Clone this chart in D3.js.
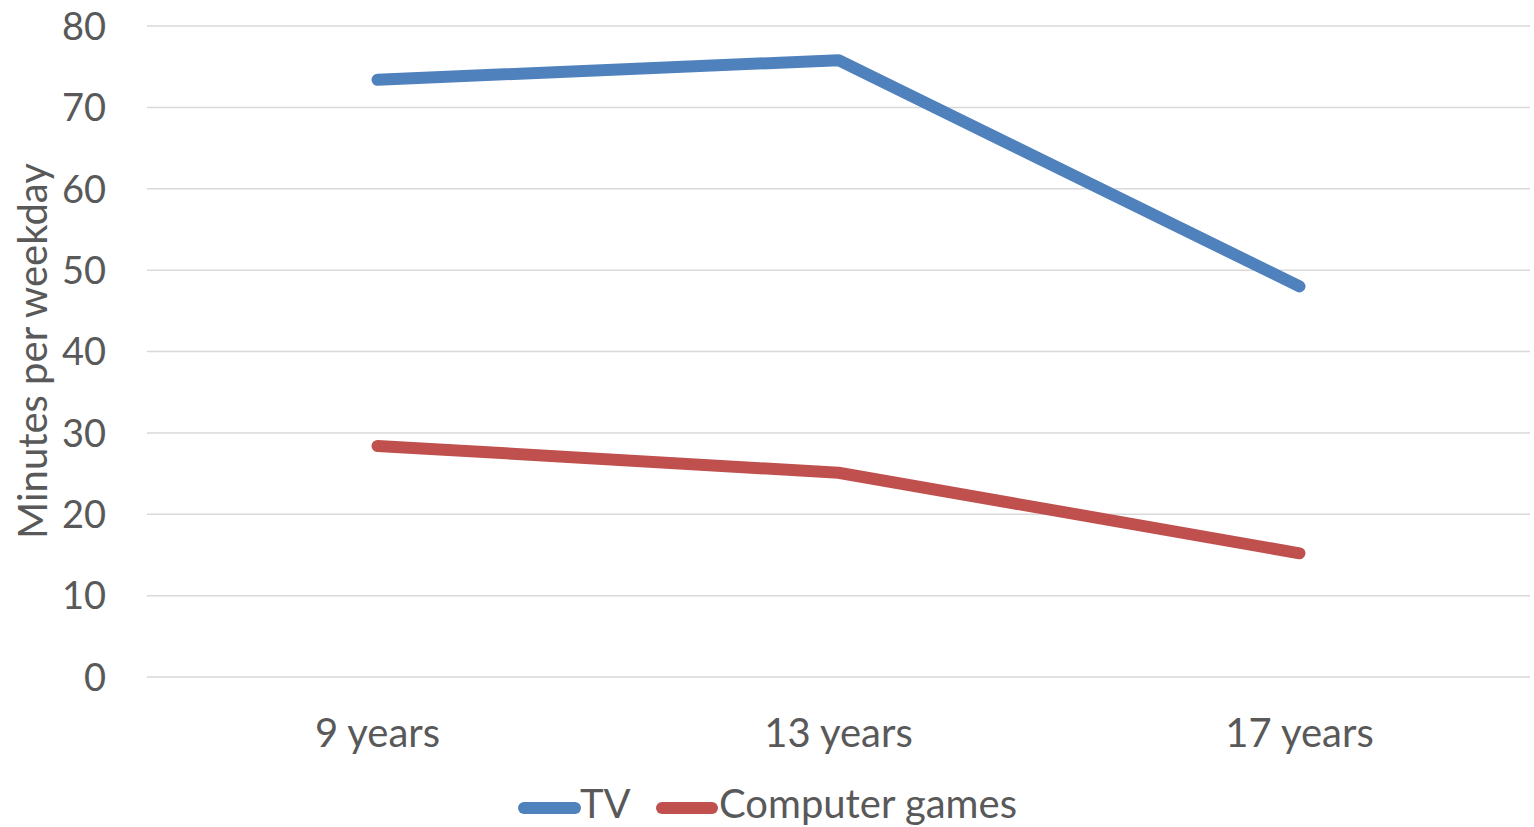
<!DOCTYPE html>
<html>
<head>
<meta charset="utf-8">
<script src="https://cdn.jsdelivr.net/npm/d3@7"></script>
<style>
  html, body { margin: 0; padding: 0; background: #fff; }
  svg { display: block; }
  text { font-family: Lato, "Open Sans", sans-serif; fill: #595959; }
</style>
</head>
<body>
<svg id="chart" width="1534" height="827"></svg>
<script>
// Age groups along the x axis
const categories = ["9 years", "13 years", "17 years"];
// Minutes per weekday for each series
const tvValues = [73.4, 75.8, 48.0];
const gamesValues = [28.4, 25.1, 15.2];
const seriesNames = ["TV", "Computer games"];
const seriesColors = ["#4F81BD", "#C0504D"];
const yTicks = [0, 10, 20, 30, 40, 50, 60, 70, 80];

const series = [
  { name: seriesNames[0], color: seriesColors[0], values: tvValues },
  { name: seriesNames[1], color: seriesColors[1], values: gamesValues }
];

const svg = d3.select("#chart");
const plot = { left: 147, right: 1530, top: 26, bottom: 677 };

const x = d3.scaleBand().domain(categories).range([plot.left, plot.right]);
const y = d3.scaleLinear().domain([0, 80]).range([plot.bottom, plot.top]);

// horizontal gridlines
svg.append("g")
  .selectAll("line")
  .data(yTicks)
  .join("line")
  .attr("x1", plot.left).attr("x2", plot.right)
  .attr("y1", d => y(d)).attr("y2", d => y(d))
  .attr("stroke", "#d9d9d9").attr("stroke-width", 1.5);

// y tick labels
const yAxis = d3.axisLeft(y).tickValues(yTicks).tickSize(0).tickPadding(0);
const gy = svg.append("g").attr("transform", "translate(106,0)").call(yAxis);
gy.select(".domain").remove();
gy.selectAll("text")
  .attr("font-size", 38).attr("font-family", "Lato, sans-serif")
  .attr("fill", "#595959").attr("dy", "0.35em").attr("x", 0);

// x tick labels
const xAxis = d3.axisBottom(x).tickSize(0).tickPadding(0);
const gx = svg.append("g").attr("transform", "translate(0,733)").call(xAxis);
gx.select(".domain").remove();
gx.selectAll("text")
  .attr("font-size", 40).attr("font-family", "Lato, sans-serif")
  .attr("fill", "#595959").attr("y", 0).attr("dy", "0.35em");

// y axis title
svg.append("text")
  .attr("transform", "translate(33,351) rotate(-90)")
  .attr("text-anchor", "middle").attr("dy", "0.35em")
  .attr("font-size", 40)
  .text("Minutes per weekday");

// series lines
const line = d3.line()
  .x((d, i) => x(categories[i]) + x.bandwidth() / 2)
  .y(d => y(d));

svg.append("g")
  .selectAll("path")
  .data(series)
  .join("path")
  .attr("d", d => line(d.values))
  .attr("fill", "none")
  .attr("stroke", d => d.color)
  .attr("stroke-width", 12)
  .attr("stroke-linecap", "round")
  .attr("stroke-linejoin", "round");

// legend
const legendItems = [
  { s: series[0], x0: 524, x1: 575, tx: 580 },
  { s: series[1], x0: 662, x1: 712, tx: 719 }
];
const lg = svg.append("g");
legendItems.forEach(it => {
  lg.append("line")
    .attr("x1", it.x0).attr("x2", it.x1)
    .attr("y1", 808).attr("y2", 808)
    .attr("stroke", it.s.color).attr("stroke-width", 12)
    .attr("stroke-linecap", "round");
  lg.append("text")
    .attr("x", it.tx).attr("y", 804).attr("dy", "0.35em")
    .attr("font-size", 40)
    .text(it.s.name);
});
</script>
</body>
</html>
